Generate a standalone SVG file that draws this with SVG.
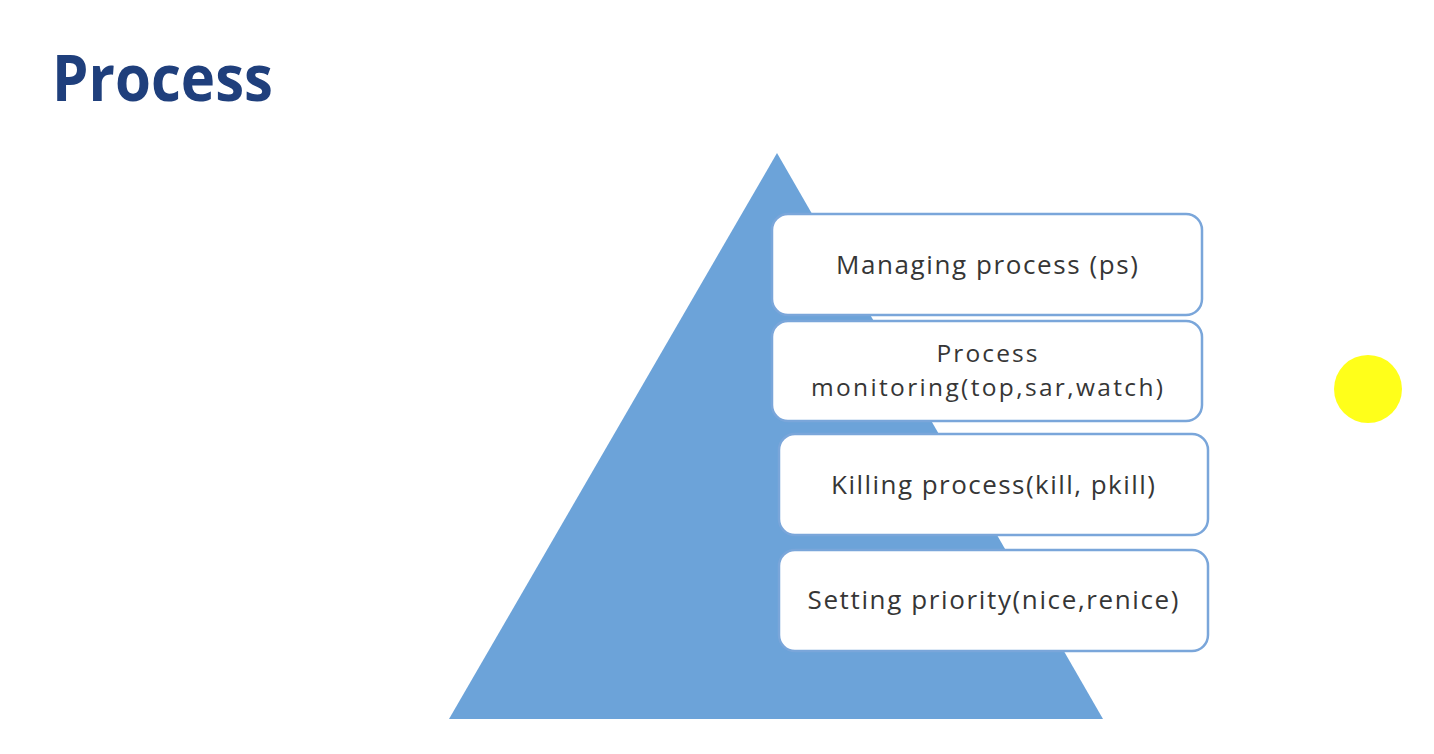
<svg xmlns="http://www.w3.org/2000/svg" width="1434" height="754" viewBox="0 0 1434 754">
<style>
.box{fill:#ffffff;stroke:#7aa6da;stroke-width:2.5}
.lbl{font-family:"Open Sans","Liberation Sans",sans-serif;font-size:26px;fill:#363636;text-anchor:middle}
.sm{font-size:24.5px}
.title{font-family:"Open Sans","Liberation Sans",sans-serif;font-size:64px;font-weight:bold;fill:#1f3f7c}
</style>
<rect width="1434" height="754" fill="#ffffff"/>
<text class="title" x="52" y="101" textLength="221" lengthAdjust="spacingAndGlyphs">Process</text>
<g id="pyramid"><polygon points="777,153 449,719 1103,719" fill="#6ca3d9"/></g>
<g id="node1"><rect class="box" x="772" y="214" width="430" height="101" rx="16"/><text class="lbl" x="987" y="274" textLength="302" lengthAdjust="spacing">Managing process (ps)</text></g>
<g id="node2"><rect class="box" x="772" y="321" width="430" height="100" rx="16"/><text class="lbl sm" x="987" y="362" textLength="101" lengthAdjust="spacing">Process</text><text class="lbl sm" x="987" y="396" textLength="352" lengthAdjust="spacing">monitoring(top,sar,watch)</text></g>
<g id="node3"><rect class="box" x="779" y="434" width="429" height="101" rx="16"/><text class="lbl" x="993" y="494" textLength="324" lengthAdjust="spacing">Killing process(kill, pkill)</text></g>
<g id="node4"><rect class="box" x="779" y="550" width="429" height="101" rx="16"/><text class="lbl" x="993" y="609" textLength="371" lengthAdjust="spacing">Setting priority(nice,renice)</text></g>
<g id="connectors"></g>
<g id="dot"><circle cx="1368" cy="389" r="34" fill="#ffff1a"/></g>
</svg>
